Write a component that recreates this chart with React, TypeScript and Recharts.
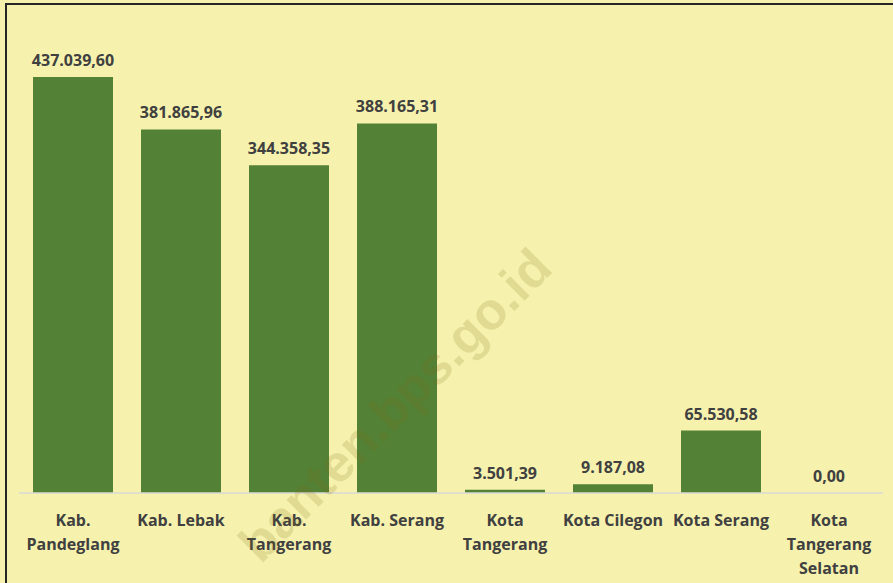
import { Bar, BarChart, LabelList, XAxis, YAxis } from "recharts";

const categories = [
  "Kab. Pandeglang",
  "Kab. Lebak",
  "Kab. Tangerang",
  "Kab. Serang",
  "Kota Tangerang",
  "Kota Cilegon",
  "Kota Serang",
  "Kota Tangerang Selatan",
];

const tickLabels = [
  ["Kab.", "Pandeglang"],
  ["Kab. Lebak"],
  ["Kab.", "Tangerang"],
  ["Kab. Serang"],
  ["Kota", "Tangerang"],
  ["Kota Cilegon"],
  ["Kota Serang"],
  ["Kota", "Tangerang", "Selatan"],
];

const values = [437039.6, 381865.96, 344358.35, 388165.31, 3501.39, 9187.08, 65530.58, 0];

const data = categories.map((name, i) => ({ name, value: values[i] }));

const FONT = "'Open Sans', 'Noto Sans', sans-serif";
const TEXT = "#404040";

// format like 437.039,60
function fmt(v: number) {
  const [int, dec] = v.toFixed(2).split(".");
  return int.replace(/\B(?=(\d{3})+(?!\d))/g, ".") + "," + dec;
}

function Tick(props: any) {
  const { x, y, payload } = props;
  const lines = tickLabels[payload.index] || [payload.value];
  return (
    <text
      x={x}
      y={y + 25}
      textAnchor="middle"
      fill={TEXT}
      fontFamily={FONT}
      fontWeight={700}
      fontSize={16}
    >
      {lines.map((l: string, i: number) => (
        <tspan key={i} x={x} dy={i === 0 ? 0 : 24}>
          {l}
        </tspan>
      ))}
    </text>
  );
}

function ValueLabel(props: any) {
  const { x, y, width, value } = props;
  return (
    <text
      x={x + width / 2}
      y={y - 11}
      textAnchor="middle"
      fill={TEXT}
      fontFamily={FONT}
      fontWeight={700}
      fontSize={16}
    >
      {fmt(Number(value))}
    </text>
  );
}

export default function App() {
  return (
    <div
      style={{
        position: "fixed",
        left: 0,
        top: 0,
        width: 893,
        height: 583,
        background: "#F6F2AE",
        overflow: "hidden",
      }}
    >
      <div
        style={{
          position: "absolute",
          left: 5,
          top: 3,
          width: 950,
          height: 650,
          borderTop: "2px solid #262626",
          borderLeft: "2px solid #262626",
        }}
      />
      <div style={{ position: "absolute", left: 0, top: 0 }}>
        <BarChart
          width={893}
          height={583}
          data={data}
          margin={{ top: 17, right: 10, bottom: 0, left: 19 }}
          barSize={80}
        >
          <XAxis
            dataKey="name"
            height={90}
            interval={0}
            tickLine={false}
            axisLine={{ stroke: "#D9D9D9", strokeWidth: 1.5 }}
            tick={<Tick />}
          />
          <YAxis hide domain={[0, 500000]} />
          <Bar dataKey="value" fill="#538135" isAnimationActive={false} minPointSize={0.01}>
            <LabelList dataKey="value" content={<ValueLabel />} />
          </Bar>
        </BarChart>
      </div>
      <div
        style={{
          position: "absolute",
          left: 395,
          top: 405,
          transform: "translate(-50%, -50%) rotate(-45deg)",
          fontFamily: "'Liberation Sans', Arial, sans-serif",
          fontWeight: 700,
          fontSize: 52,
          color: "rgba(130, 110, 20, 0.18)",
          whiteSpace: "nowrap",
          pointerEvents: "none",
        }}
      >
        banten.bps.go.id
      </div>
    </div>
  );
}
